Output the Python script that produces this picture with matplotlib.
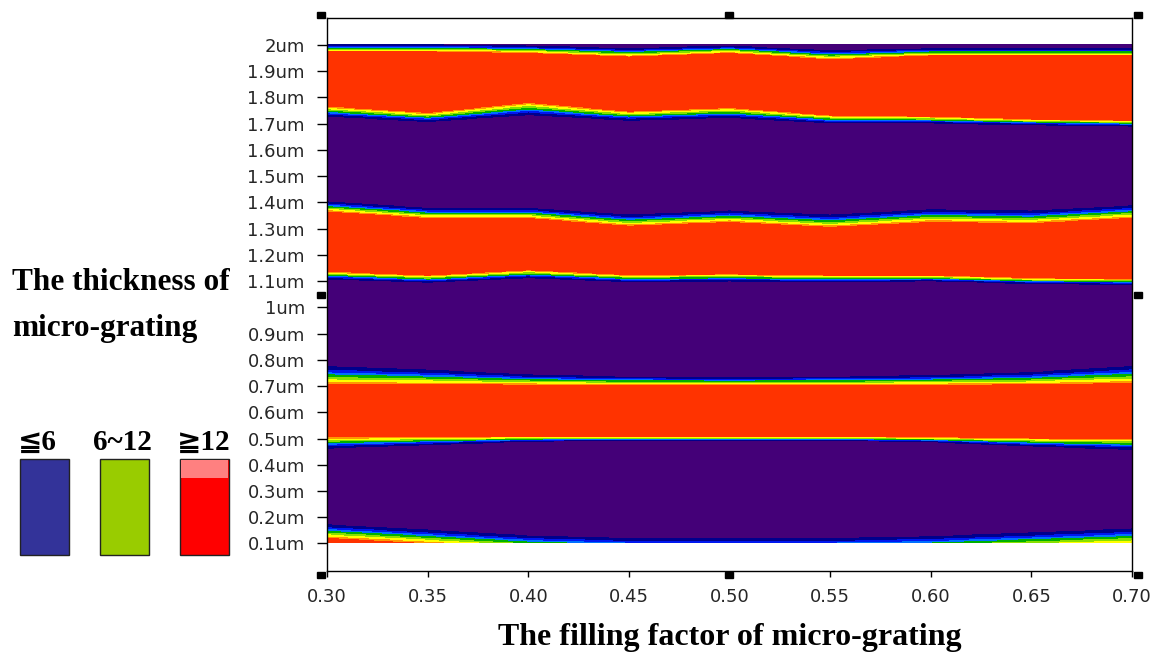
import numpy as np
import matplotlib
matplotlib.use('Agg')
from matplotlib import pyplot as plt
from matplotlib import colors
from matplotlib.patches import Rectangle

# filling factor nodes where the band edges were read
fill_factor = [0.30, 0.35, 0.40, 0.45, 0.50, 0.55, 0.60, 0.65, 0.70]

# edges of the red (>=12) bands, thickness in um
band1_upper = [1.970, 1.970, 1.965, 1.950, 1.965, 1.940, 1.955, 1.955, 1.955]
band1_lower = [1.765, 1.740, 1.780, 1.745, 1.760, 1.730, 1.725, 1.715, 1.710]
band2_upper = [1.360, 1.335, 1.335, 1.305, 1.320, 1.300, 1.320, 1.315, 1.335]
band2_lower = [1.135, 1.120, 1.140, 1.122, 1.125, 1.120, 1.120, 1.110, 1.107]
band3_upper = [0.700, 0.700, 0.700, 0.700, 0.700, 0.700, 0.700, 0.700, 0.705]
band3_lower = [0.505, 0.505, 0.505, 0.505, 0.505, 0.505, 0.503, 0.500, 0.500]
band4_upper = [0.115, 0.095, 0.075, 0.065, 0.065, 0.065, 0.070, 0.080, 0.090]
band4_lower = [-1.0] * 9

# width of the 6~12 transition on each side of a band (um)
band1_fringe_up = [0.032, 0.032, 0.032, 0.038, 0.032, 0.040, 0.032, 0.032, 0.032]
band1_fringe_dn = [0.045, 0.040, 0.055, 0.040, 0.045, 0.035, 0.030, 0.026, 0.026]
band2_fringe_up = [0.045, 0.045, 0.045, 0.050, 0.050, 0.055, 0.055, 0.055, 0.055]
band2_fringe_dn = [0.034, 0.032, 0.034, 0.032, 0.032, 0.030, 0.026, 0.026, 0.026]
band3_fringe_up = [0.080, 0.065, 0.045, 0.036, 0.034, 0.036, 0.042, 0.055, 0.075]
band3_fringe_dn = [0.050, 0.036, 0.022, 0.018, 0.018, 0.018, 0.022, 0.036, 0.050]
band4_fringe_up = [0.060, 0.060, 0.058, 0.058, 0.058, 0.058, 0.060, 0.065, 0.070]
band4_fringe_dn = [0.01] * 9

x_ticks = [0.30, 0.35, 0.40, 0.45, 0.50, 0.55, 0.60, 0.65, 0.70]
y_ticks = [0.1, 0.2, 0.3, 0.4, 0.5, 0.6, 0.7, 0.8, 0.9, 1.0,
           1.1, 1.2, 1.3, 1.4, 1.5, 1.6, 1.7, 1.8, 1.9, 2.0]

legend_labels = [u'\u2266' + '6', '6~12', u'\u2267' + '12']
legend_colors = ['#333399', '#99CC00', '#FF0000']

level_colors = ['#440078', '#00008C', '#0018F0', '#0070FF', '#00B000',
                '#88E000', '#FFFF00', '#FF9900', '#FF3300']
level_bounds = [0.0, 0.08, 0.26, 0.38, 0.48, 0.60, 0.72, 0.84, 0.94, 1.01]


def band_level(xs, ys, lower, upper, w_dn, w_up):
    lo = np.interp(xs, fill_factor, lower)[None, :]
    up = np.interp(xs, fill_factor, upper)[None, :]
    wd = np.interp(xs, fill_factor, w_dn)[None, :]
    wu = np.interp(xs, fill_factor, w_up)[None, :]
    yy = ys[:, None]
    d = np.clip(yy - up, 0, None) / wu + np.clip(lo - yy, 0, None) / wd
    return np.clip(1.0 - d, 0.0, 1.0)


xs = np.linspace(0.30, 0.70, 900)
ys = np.linspace(0.10, 2.00, 1400)
bands = [(band1_lower, band1_upper, band1_fringe_dn, band1_fringe_up),
         (band2_lower, band2_upper, band2_fringe_dn, band2_fringe_up),
         (band3_lower, band3_upper, band3_fringe_dn, band3_fringe_up),
         (band4_lower, band4_upper, band4_fringe_dn, band4_fringe_up)]
Z = np.zeros((len(ys), len(xs)))
for b in bands:
    Z = np.maximum(Z, band_level(xs, ys, *b))

W, H = 1158, 654
fig = plt.figure(figsize=(W / 100, H / 100), dpi=100)
ax = fig.add_axes([327 / W, 1 - 571 / H, 805 / W, 553 / H])

cmap = colors.ListedColormap(level_colors)
norm = colors.BoundaryNorm(level_bounds, cmap.N)
ax.imshow(Z, extent=[0.30, 0.70, 0.10, 2.00], origin='lower', aspect='auto',
          cmap=cmap, norm=norm, interpolation='nearest')

ax.set_xlim(0.30, 0.70)
ax.set_ylim(-0.005, 2.103)
ax.set_xticks(x_ticks)
ax.set_xticklabels(['%.2f' % v for v in x_ticks], fontfamily='DejaVu Sans',
                   fontsize=13, color='#262626')
ax.set_yticks(y_ticks)
ax.set_yticklabels(['%gum' % v for v in y_ticks], fontfamily='DejaVu Sans',
                   fontsize=13, color='#262626')
ax.tick_params(axis='y', length=7, width=1, pad=9, direction='out')
ax.tick_params(axis='x', length=4, width=1, pad=8, direction='out')
for sp in ax.spines.values():
    sp.set_linewidth(1)
    sp.set_color('black')

# selection handles around the plot frame
handles = [(321, 15), (729, 15), (1138, 15), (321, 295), (1138, 295),
           (321, 575), (729, 575), (1138, 575)]
for hx, hy in handles:
    fig.add_artist(Rectangle(((hx - 4) / W, 1 - (hy + 3) / H), 8 / W, 6 / H,
                             transform=fig.transFigure, color='black',
                             zorder=10))

serif = ['Liberation Serif', 'DejaVu Serif', 'DejaVu Sans']
fig.text(12 / W, 1 - 290 / H, 'The thickness of', family=serif,
         weight='bold', fontsize=22.5, va='baseline', ha='left')
fig.text(12 / W, 1 - 336 / H, 'micro-grating', family=serif,
         weight='bold', fontsize=22.5, va='baseline', ha='left')
fig.text(730 / W, 1 - 645 / H, 'The filling factor of micro-grating',
         family=serif, weight='bold', fontsize=23, va='baseline',
         ha='center')

# colour key
label_x = [18, 93, 177]
box_x = [20, 100, 180]
for lx, bx, lab, col in zip(label_x, box_x, legend_labels, legend_colors):
    fig.text(lx / W, 1 - 450 / H, lab, family=serif, weight='bold',
             fontsize=21, va='baseline', ha='left')
    fig.add_artist(Rectangle((bx / W, 1 - 555 / H), 49 / W, 96 / H,
                             transform=fig.transFigure, facecolor=col,
                             edgecolor='#222222', linewidth=1))
fig.add_artist(Rectangle((181 / W, 1 - 478 / H), 47 / W, 18 / H,
                         transform=fig.transFigure, facecolor='#FF8080',
                         edgecolor='none'))

fig.savefig('out.png', dpi=100)
